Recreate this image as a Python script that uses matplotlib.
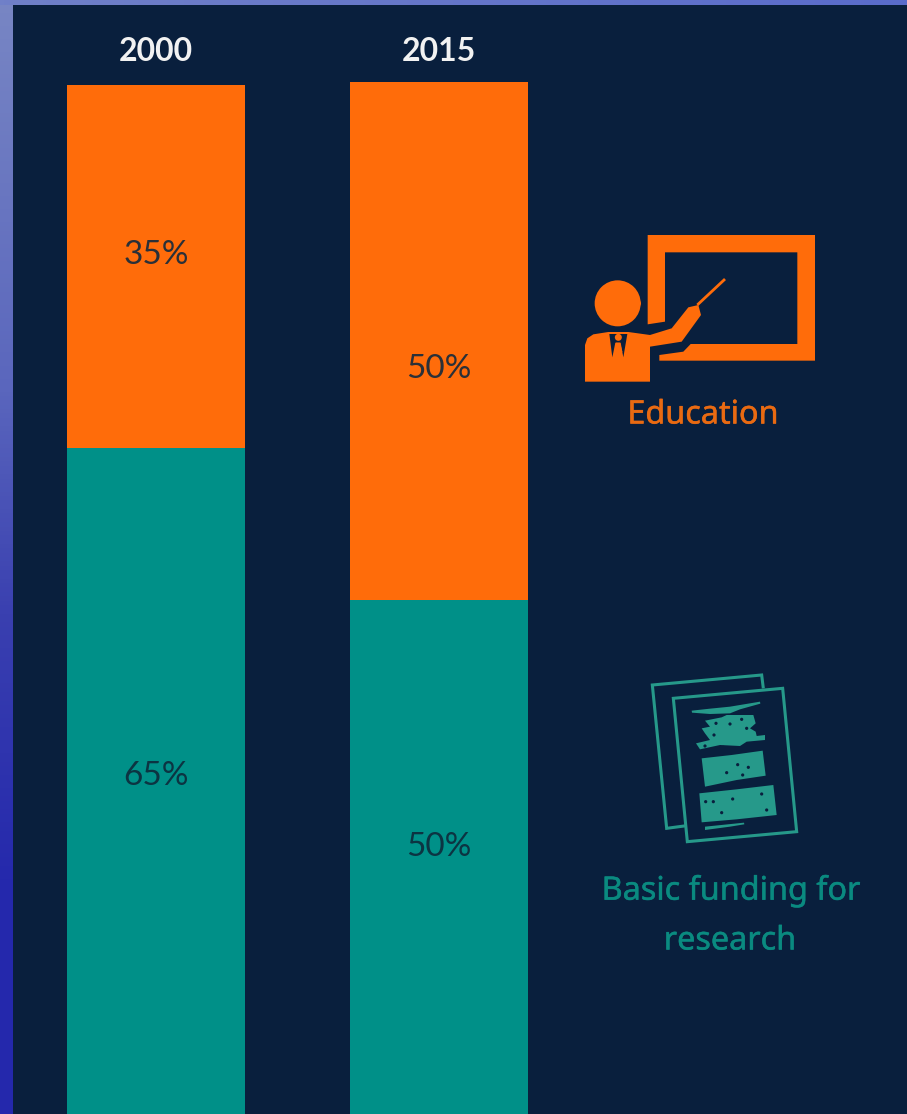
import numpy as np
import matplotlib
matplotlib.use('Agg')
import matplotlib.pyplot as plt
import matplotlib.patheffects as pe
from matplotlib.patches import Polygon, Circle, Rectangle
from matplotlib.colors import LinearSegmentedColormap

# shares of institutional funding per year, percent
years = ['2000', '2015']
education = [35, 50]
research = [65, 50]
base = [0, 0.34]

# value labels do not sit exactly mid-segment
edu_shift = [1.1, -2.7]
res_shift = [0.85, 1.15]

NAVY = '#091f3d'
ORANGE = '#ff6c0a'
TEAL = '#009088'
SHEET = '#26998a'
W, H = 907, 1114

plt.rcParams['font.family'] = ['Lato', 'DejaVu Sans']

fig = plt.figure(figsize=(W / 100, H / 100), dpi=100)

# backdrop and icons are laid out in pixels
bg = fig.add_axes([0, 0, 1, 1])
bg.set_xlim(0, W)
bg.set_ylim(H, 0)
bg.axis('off')

side = LinearSegmentedColormap.from_list(
    'side', [(0, '#7886c4'), (0.35, '#5a66bd'), (0.55, '#3a40b0'), (0.8, '#2428ac'), (1, '#2428ac')])
topc = LinearSegmentedColormap.from_list('topc', ['#7080c8', '#5a6ccc'])
bg.imshow(np.linspace(0, 1, 256).reshape(-1, 1), cmap=side, extent=(0, 13, H, 0), aspect='auto')
bg.imshow(np.linspace(0, 1, 256).reshape(1, -1), cmap=topc, extent=(0, W, 5, 0), aspect='auto')
bg.add_patch(Rectangle((13, 5), W - 13, H - 5, color=NAVY, lw=0))
bg.set_xlim(0, W)
bg.set_ylim(H, 0)


def shape(pts, ox, oy, **kw):
    # icon outlines were sketched at 3x, so scale them back down
    return Polygon([(ox + x / 3, oy + y / 3) for x, y in pts], **kw)


def bold(color, lw=0.35):
    return [pe.withStroke(linewidth=lw, foreground=color)]


# teacher at the board
ox, oy = 570, 220
board = [(233, 45), (735, 45), (735, 422), (268, 422), (268, 405), (340, 395), (362, 372),
         (682, 372), (682, 97), (285, 97), (285, 305), (233, 313)]
body = [(45, 485), (45, 375), (52, 355), (70, 343), (115, 336), (175, 336), (240, 345), (305, 325),
        (355, 262), (385, 255), (393, 285), (335, 365), (240, 380), (240, 485)]
collar = [(118, 342), (172, 342), (160, 412), (152, 368), (136, 368), (127, 412)]
tie = [(138, 368), (150, 368), (157, 395), (145, 415), (133, 395)]
bg.add_patch(shape(board, ox, oy, color=ORANGE, lw=0))
bg.add_patch(shape(body, ox, oy, color=ORANGE, lw=0))
bg.add_patch(shape(collar, ox, oy, color=NAVY, lw=0))
bg.add_patch(shape(tie, ox, oy, color=ORANGE, lw=0))
bg.add_patch(Circle((ox + 143 / 3, oy + 250 / 3), 23, color=ORANGE, lw=0))
# ears
bg.add_patch(Circle((ox + 84 / 3, oy + 250 / 3), 3, color=ORANGE, lw=0))
bg.add_patch(Circle((ox + 204 / 3, oy + 250 / 3), 3, color=ORANGE, lw=0))
bg.add_patch(Circle((ox + 145 / 3, oy + 352 / 3), 3.5, color=ORANGE, lw=0))
bg.plot([ox + 385 / 3, ox + 462 / 3], [oy + 252 / 3, oy + 180 / 3], color=ORANGE, lw=2)

# stacked sheets of paper
ox, oy = 590, 660
back = [(290, 497), (230, 505), (187, 75), (515, 45), (520, 85)]
front = [(250, 115), (578, 85), (620, 515), (292, 545)]
bg.add_patch(shape(back, ox, oy, closed=False, fill=False, ec=SHEET, lw=2.2))
bg.add_patch(shape(front, ox, oy, fill=False, ec=SHEET, lw=2.2))
blocks = [
    [(335, 295), (425, 285), (518, 272), (527, 347), (440, 360), (345, 380)],
    [(328, 400), (440, 388), (550, 375), (560, 465), (440, 478), (335, 487)],
    [(345, 182), (395, 172), (410, 165), (490, 165), (497, 190), (480, 205), (497, 215),
     (500, 228), (525, 225), (525, 240), (470, 245), (450, 258), (390, 255), (330, 268),
     (318, 250), (360, 240), (345, 220), (335, 205), (360, 200)],
    [(305, 152), (360, 146), (420, 140), (510, 125), (511, 131), (450, 148), (420, 160),
     (360, 162), (306, 158)],
    [(345, 500), (462, 488), (463, 493), (420, 500), (345, 510)],
]
for b in blocks:
    bg.add_patch(shape(b, ox, oy, color=SHEET, lw=0))
specks = [(410, 338), (443, 314), (475, 322), (458, 345), (347, 425), (370, 425), (428, 417),
          (515, 402), (395, 458), (530, 450), (378, 190), (420, 192), (372, 225), (470, 205),
          (455, 178), (345, 258), (400, 262)]
for sx, sy in specks:
    bg.add_patch(Circle((ox + sx / 3, oy + sy / 3), 1.6, color=NAVY, lw=0))

labels = [(703, 415, 'Education', '#e96a12'),
          (731, 891, 'Basic funding for', '#0a8a80'),
          (730, 941, 'research', '#0a8a80')]
for tx, ty, s, c in labels:
    bg.text(tx, ty, s, color=c, fontsize=23.3, family='Noto Sans', ha='center', va='center',
            path_effects=bold(c))

# the bars, in percent, run past the lower edge of the canvas
ax = fig.add_axes([0, 0, 1, 1])
ax.patch.set_alpha(0)
ax.axis('off')
per_pct = 10.365
ax.set_ylim(8 / per_pct, 1122 / per_pct)
ax.set_xlim(-156 / 283, (W - 156) / 283)

x = np.arange(len(years))
ax.bar(x, research, 0.629, bottom=base, color=TEAL, lw=0)
tops = [b + r for b, r in zip(base, research)]
ax.bar(x, education, 0.629, bottom=tops, color=ORANGE, lw=0)

for i in x:
    ax.text(i, base[i] + research[i] / 2 + res_shift[i], f'{research[i]}%', color='#0c3442',
            fontsize=24, ha='center', va='center')
    ax.text(i, tops[i] + education[i] / 2 + edu_shift[i], f'{education[i]}%', color='#2a3038',
            fontsize=24, ha='center', va='center')
    ax.text(i, 103.3, years[i], color='#f2f2f2', fontsize=23, fontweight='bold',
            ha='center', va='center')

fig.savefig('out.png', dpi=100)
